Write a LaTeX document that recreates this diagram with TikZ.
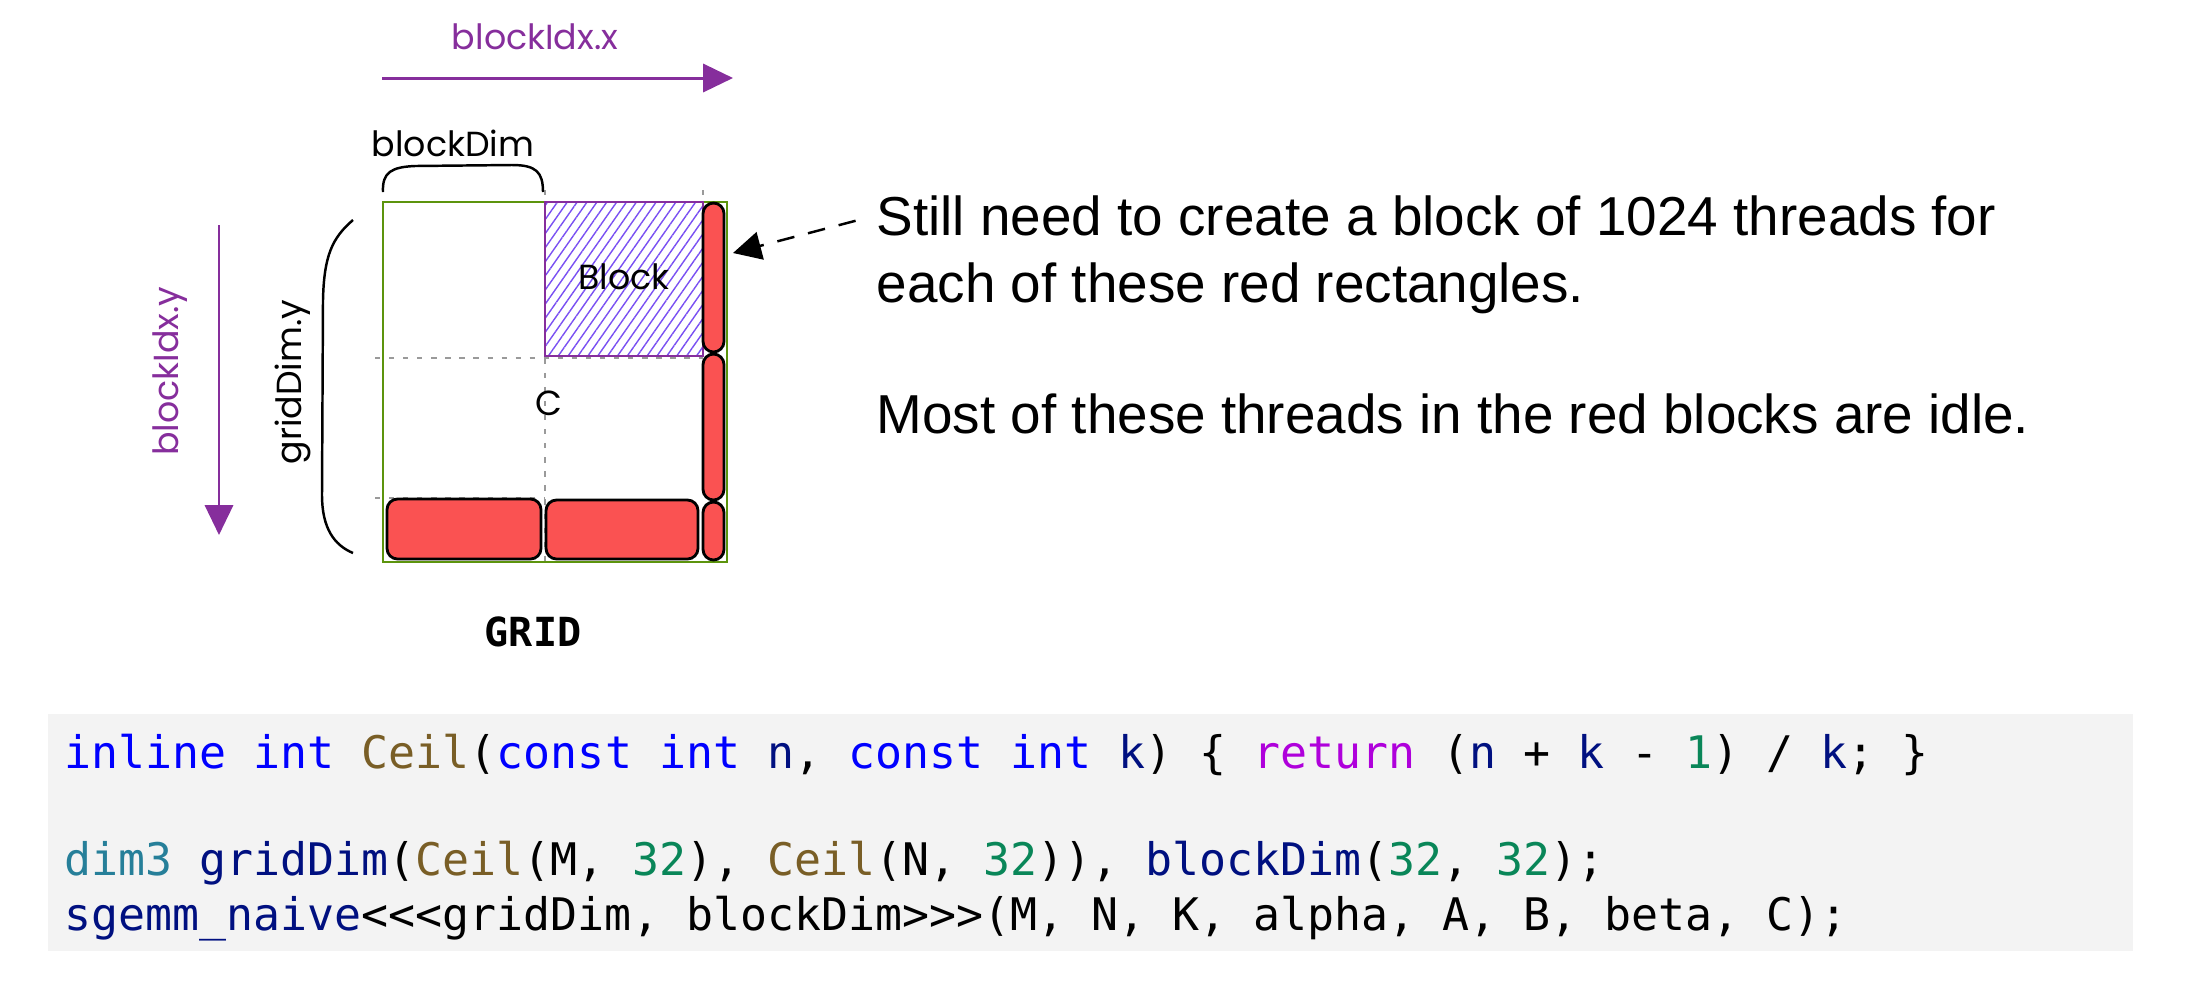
\documentclass[tikz,border=0pt]{standalone}
\usepackage{fontspec}
\setmainfont{Liberation Sans}
\setmonofont{DejaVu Sans Mono}
\newfontfamily\sketchfont{Poppins}
\usetikzlibrary{arrows.meta,patterns.meta}
\definecolor{gridgreen}{HTML}{5C940D}
\definecolor{idxpurple}{HTML}{862E9C}
\definecolor{hatchviolet}{HTML}{7950F2}
\definecolor{idlered}{HTML}{FA5252}
\definecolor{guidegray}{HTML}{9A9A9A}
\definecolor{codebg}{HTML}{F3F3F3}
\definecolor{codekw}{HTML}{0000FF}
\definecolor{codefn}{HTML}{795E26}
\definecolor{codetype}{HTML}{267F99}
\definecolor{codevar}{HTML}{001080}
\definecolor{codenum}{HTML}{098658}
\definecolor{coderet}{HTML}{AF00DB}
\newcommand{\ckw}[1]{\textcolor{codekw}{#1}}
\newcommand{\cfn}[1]{\textcolor{codefn}{#1}}
\newcommand{\ctype}[1]{\textcolor{codetype}{#1}}
\newcommand{\cvar}[1]{\textcolor{codevar}{#1}}
\newcommand{\cnum}[1]{\textcolor{codenum}{#1}}
\newcommand{\cret}[1]{\textcolor{coderet}{#1}}

\begin{document}
\begin{tikzpicture}[x=0.01cm, y=-0.01cm,
    frame/.style={draw=gridgreen, line width=0.7pt},
    guide/.style={draw=guidegray, line width=0.55pt, dash pattern=on 1.5pt off 2.5pt},
    idlecell/.style={fill=idlered, draw=black, line width=0.8pt, rounded corners=3pt},
    idxarrow/.style={draw=idxpurple, line width=0.85pt, -{Triangle[length=8.5pt,width=8pt]}},
    callout/.style={draw=black, line width=0.7pt, dash pattern=on 5pt off 4pt, -{Triangle[length=8pt,width=8pt]}},
    bracepath/.style={draw=black, line width=0.7pt},
    sketch/.style={font=\sketchfont\fontsize{9.9}{11.8}\selectfont, inner sep=0pt},
    note/.style={font=\fontsize{15.6}{19}\selectfont, anchor=base west, inner sep=0pt},
    codeline/.style={font=\ttfamily\fontsize{12.76}{15.3}\selectfont, anchor=base west, inner sep=0pt},
  ]

  \useasboundingbox (0,0) rectangle (2185,984);

  % ---- the grid of blocks
  \draw[frame] (383,202) rectangle (727,562);
  \draw[guide] (545,190) -- (545,562);
  \draw[guide] (703,190) -- (703,202);
  \draw[guide] (375,358) -- (703,358);
  \draw[guide] (375,498) -- (545,498);

  % ---- one full block
  \draw[draw=idxpurple, line width=0.7pt,
        pattern={Lines[angle=55,distance=2.3pt,line width=0.4pt]}, pattern color=hatchviolet]
    (545,202) rectangle (703,356);
  \node[sketch] (blk) at (624,277) {Block};
  \node[sketch] (cmat) at (549,403) {C};

  % ---- partial blocks at the edges
  \foreach \xa/\ya/\xb/\yb in {703/203/724/352, 703/354/724/500, 703/502/724/560,
                               387/499/541/559, 546/500/698/559}
    \draw[idlecell] (\xa,\ya) rectangle (\xb,\yb);

  % ---- index directions
  \coordinate (xfrom) at (382,78);
  \coordinate (xto) at (733,78);
  \draw[idxarrow] (xfrom) -- (xto);
  \node[sketch, text=idxpurple] (bidx) at (535,37) {blockIdx.x};

  \coordinate (yfrom) at (219,225);
  \coordinate (yto) at (219,535);
  \draw[idxarrow] (yfrom) -- (yto);
  \node[sketch, text=idxpurple, rotate=90] (bidy) at (170,371) {blockIdx.y};

  % ---- sizes
  \draw[bracepath] (383,192) .. controls (382,172) and (392,167) .. (415,166) -- (512,165)
    .. controls (536,165) and (543,172) .. (543,192);
  \node[sketch] (bdim) at (453,143) {blockDim};

  \draw[bracepath] (353,220) .. controls (332,238) and (324,256) .. (323,300) -- (322,495)
    .. controls (322,528) and (334,545) .. (353,553);
  \node[sketch, rotate=90] (gdim) at (293,382) {gridDim.y};

  \node[font=\ttfamily\bfseries\fontsize{11.4}{13.7}\selectfont] (gridlbl) at (533,632) {GRID};

  % ---- remark
  \node[note] (note1) at (876,235) {Still need to create a block of 1024 threads for};
  \node[note] (note2) at (876,302) {each of these red rectangles.};
  \node[note] (note3) at (876,433) {Most of these threads in the red blocks are idle.};
  \coordinate (calltip) at (733,253);
  \draw[callout, shorten <=6pt] (note1.west) -- (calltip);

  % ---- launch code
  \fill[codebg] (48,714) rectangle (2133,951);
  \node[codeline] (code1) at (64,768) {\ckw{inline} \ckw{int} \cfn{Ceil}(\ckw{const} \ckw{int} \cvar{n}, \ckw{const} \ckw{int} \cvar{k}) \{ \cret{return} (\cvar{n} + \cvar{k} - \cnum{1}) / \cvar{k}; \}};
  \node[codeline] (code2) at (64,875) {\ctype{dim3} \cvar{gridDim}(\cfn{Ceil}(M, \cnum{32}), \cfn{Ceil}(N, \cnum{32})), \cvar{blockDim}(\cnum{32}, \cnum{32});};
  \node[codeline] (code3) at (64,930) {\cvar{sgemm\_naive}<<<gridDim, blockDim>>>(M, N, K, alpha, A, B, beta, C);};

\end{tikzpicture}
\end{document}
